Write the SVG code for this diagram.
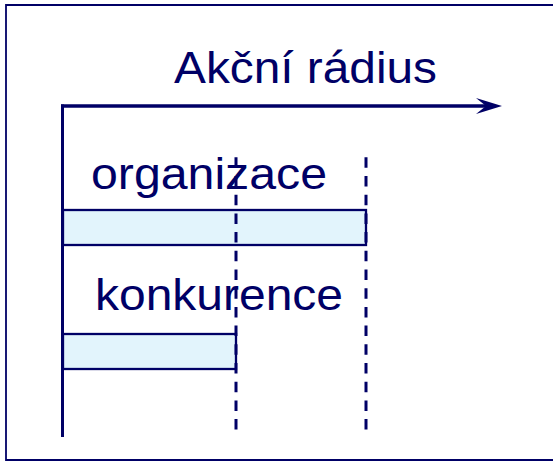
<svg xmlns="http://www.w3.org/2000/svg" width="553" height="462" viewBox="0 0 553 462">
<style>
.lbl{font-family:"Liberation Sans",Arial,sans-serif;font-size:45px;fill:#000066}
.bar{fill:#e2f4fc;stroke:#000066;stroke-width:2.3}
.dash{stroke:#000066;stroke-width:3;stroke-dasharray:10.5 8.2;fill:none}
.axis{stroke:#000066;fill:none}
</style>
<rect x="0" y="0" width="553" height="462" fill="#ffffff"/>
<path d="M553,5 H6 V460 H553" fill="none" stroke="#000066" stroke-width="1.8"/>
<g id="title"><text class="lbl" x="174" y="83" textLength="263" lengthAdjust="spacingAndGlyphs">Akční rádius</text></g>
<g id="organizace">
<rect class="bar" x="63" y="210" width="303" height="35"/>
<text class="lbl" x="91" y="188.5" textLength="236" lengthAdjust="spacingAndGlyphs">organizace</text>
</g>
<g id="konkurence">
<rect class="bar" x="63" y="334" width="173" height="35"/>
<text class="lbl" x="95" y="310" textLength="248" lengthAdjust="spacingAndGlyphs">konkurence</text>
</g>
<g id="connectors">
<line class="axis" x1="62.5" y1="104.5" x2="62.5" y2="437" stroke-width="3"/>
<line class="axis" x1="61" y1="106" x2="487" y2="106" stroke-width="3.5"/>
<polygon points="502,106 476,98 486,106 476,114" fill="#000066"/>
<line class="dash" x1="236" y1="157.3" x2="236" y2="430"/>
<line class="dash" x1="366" y1="157.3" x2="366" y2="430"/>
</g>
</svg>
